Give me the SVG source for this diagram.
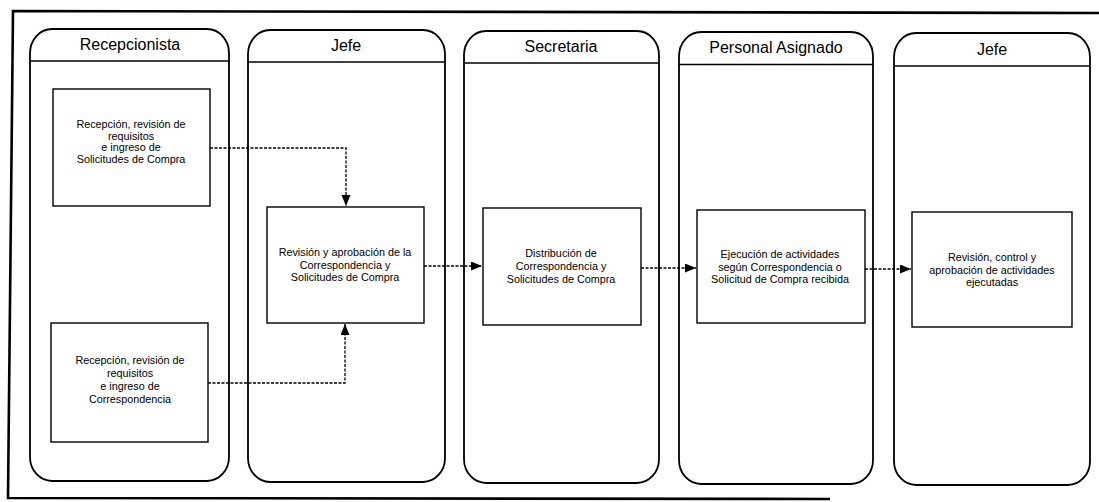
<svg xmlns="http://www.w3.org/2000/svg" width="1099" height="502" viewBox="0 0 1099 502">
  <style>
    .frame { fill: none; stroke: #000; stroke-width: 2.6; }
    .lane { fill: #fff; stroke: #000; stroke-width: 1.8; }
    .hdr { stroke: #000; stroke-width: 1.6; }
    .lane-title { font-family: "Liberation Sans", Arial, sans-serif; font-size: 16px; fill: #000; text-anchor: middle; }
    .box { fill: #fff; stroke: #000; stroke-width: 1.4; }
    .box-text { font-family: "Liberation Sans", Arial, sans-serif; font-size: 10.8px; fill: #000; text-anchor: middle; }
    .conn { fill: none; stroke: #000; stroke-width: 1.3; stroke-dasharray: 3 1.5; marker-end: url(#arrow); }
  </style>
  <defs>
    <marker id="arrow" markerUnits="userSpaceOnUse" markerWidth="12" markerHeight="10" refX="11" refY="4.5" orient="auto">
      <path d="M0,0 L11,4.5 L0,9 Z" fill="#000"/>
    </marker>
  </defs>

  <rect width="1099" height="502" fill="#fff"/>

  <!-- outer frame -->
  <path class="frame" d="M1099,13 L13,11 L8,498 L830,499"/>

  <!-- swimlanes -->
  <g id="lane-recepcionista">
    <rect class="lane" x="30" y="29" width="199" height="452" rx="22" ry="24"/>
    <line class="hdr" x1="30" y1="61" x2="229" y2="61"/>
    <text class="lane-title" x="130" y="50">Recepcionista</text>
  </g>
  <g id="lane-jefe">
    <rect class="lane" x="248" y="30" width="197" height="452" rx="22" ry="24"/>
    <line class="hdr" x1="248" y1="62" x2="445" y2="62"/>
    <text class="lane-title" x="346" y="51">Jefe</text>
  </g>
  <g id="lane-secretaria">
    <rect class="lane" x="464" y="31" width="195" height="452" rx="22" ry="24"/>
    <line class="hdr" x1="464" y1="63" x2="659" y2="63"/>
    <text class="lane-title" x="561" y="52">Secretaria</text>
  </g>
  <g id="lane-personal">
    <rect class="lane" x="679" y="32" width="194" height="452" rx="22" ry="24"/>
    <line class="hdr" x1="679" y1="64.5" x2="873" y2="64.5"/>
    <text class="lane-title" x="776" y="53">Personal Asignado</text>
  </g>
  <g id="lane-jefe-2">
    <rect class="lane" x="894" y="33" width="196" height="452" rx="22" ry="24"/>
    <line class="hdr" x1="894" y1="66" x2="1090" y2="66"/>
    <text class="lane-title" x="992" y="55">Jefe</text>
  </g>

  <!-- activities -->
  <g id="node-solicitudes">
    <rect class="box" x="53" y="89" width="157" height="117"/>
    <text class="box-text" x="131" y="128">Recepción, revisión de</text>
    <text class="box-text" x="131" y="139.5">requisitos</text>
    <text class="box-text" x="131" y="151">e ingreso de</text>
    <text class="box-text" x="131" y="163">Solicitudes de Compra</text>
  </g>
  <g id="node-correspondencia">
    <rect class="box" x="51" y="323" width="157" height="119"/>
    <text class="box-text" x="130" y="364">Recepción, revisión de</text>
    <text class="box-text" x="130" y="377">requisitos</text>
    <text class="box-text" x="130" y="390">e ingreso de</text>
    <text class="box-text" x="130" y="403">Correspondencia</text>
  </g>
  <g id="node-aprobacion">
    <rect class="box" x="267" y="207" width="157" height="116"/>
    <text class="box-text" x="345" y="256">Revisión y aprobación de la</text>
    <text class="box-text" x="345" y="268.5">Correspondencia y</text>
    <text class="box-text" x="345" y="281">Solicitudes de Compra</text>
  </g>
  <g id="node-distribucion">
    <rect class="box" x="483" y="208" width="158" height="117"/>
    <text class="box-text" x="561" y="256.5">Distribución de</text>
    <text class="box-text" x="561" y="269.5">Correspondencia y</text>
    <text class="box-text" x="561" y="283">Solicitudes de Compra</text>
  </g>
  <g id="node-ejecucion">
    <rect class="box" x="697" y="210" width="168" height="113"/>
    <text class="box-text" x="780" y="258">Ejecución de actividades</text>
    <text class="box-text" x="780" y="270.5">según Correspondencia o</text>
    <text class="box-text" x="780" y="283">Solicitud de Compra recibida</text>
  </g>
  <g id="node-control">
    <rect class="box" x="912" y="212" width="160" height="115"/>
    <text class="box-text" x="992" y="261">Revisión, control y</text>
    <text class="box-text" x="992" y="273.5">aprobación de actividades</text>
    <text class="box-text" x="992" y="286">ejecutadas</text>
  </g>

  <!-- connectors -->
  <g id="connectors">
    <path class="conn" d="M210,148 H346 V206"/>
    <path class="conn" d="M208,383 H345 V324"/>
    <path class="conn" d="M424,266 H482"/>
    <path class="conn" d="M641,268 H696"/>
    <path class="conn" d="M865,269 H911"/>
  </g>
</svg>
